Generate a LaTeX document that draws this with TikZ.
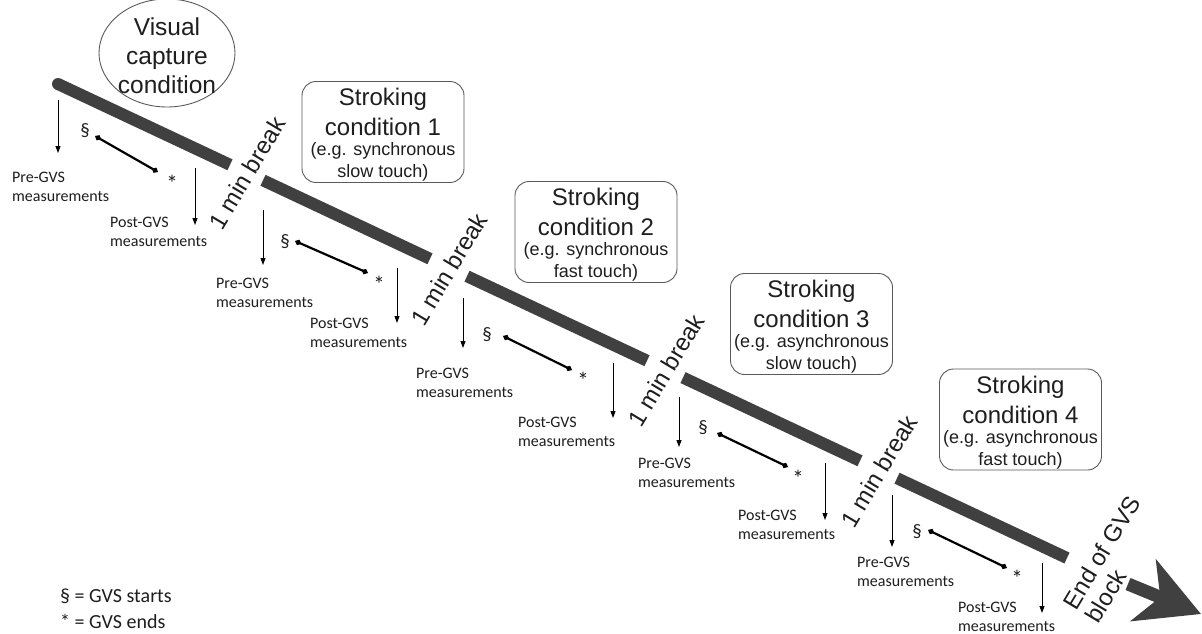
\documentclass[tikz,border=0pt]{standalone}
\usepackage{fontspec}
\setmainfont{Liberation Sans}
\newfontfamily\calfont{Carlito}
\usetikzlibrary{arrows.meta,shapes.geometric}
\definecolor{barc}{RGB}{64,64,64}
\definecolor{edgec}{RGB}{90,90,90}
\definecolor{txtc}{RGB}{30,30,30}
\begin{document}
\begin{tikzpicture}[x=1pt,y=-1pt,
  bar/.style={draw=barc, line width=12pt},
  meas/.style={font=\calfont\fontsize{16}{19}\selectfont, align=left, anchor=base west, inner sep=0pt, text=txtc},
  down/.style={-{Triangle[length=7pt,width=5pt]}, line width=0.9pt},
  gvs/.style={{Diamond[length=7pt,width=6pt]}-{Diamond[length=7pt,width=6pt]}, line width=2.2pt},
  sym/.style={font=\calfont\fontsize{19}{19}\selectfont, inner sep=0pt, text=txtc},
  ast/.style={font=\calfont\fontsize{23}{23}\selectfont, inner sep=0pt, text=txtc},
  cond/.style={draw=edgec, line width=0.9pt, rounded corners=14pt, minimum width=162pt, minimum height=101pt, inner sep=0pt},
  ttl/.style={font=\fontsize{24}{30}\selectfont, align=center, inner sep=0pt, text=txtc},
  sbt/.style={font=\fontsize{18}{22}\selectfont, align=center, inner sep=0pt, text=txtc},
  brk/.style={font=\fontsize{24}{26}\selectfont, rotate=59, inner sep=0pt, text=txtc}
]
\useasboundingbox[fill=white] (0,0) rectangle (1202,634);

% ---- main bar ----
\coordinate (b1s) at (58,84);   \coordinate (b1e) at (230,164.8);
\coordinate (b2s) at (263,180.3); \coordinate (b2e) at (430,258.8);
\coordinate (b3s) at (467,276.2); \coordinate (b3e) at (647,360.7);
\coordinate (b4s) at (683,377.6); \coordinate (b4e) at (860,460.8);
\coordinate (b5s) at (897,478.2); \coordinate (b5e) at (1067,558);
\coordinate (as) at (1128,584);  \coordinate (at) at (1201,614);
\fill[barc] (b1s) circle (6pt);
\draw[bar] (b1s) -- (b1e);
\draw[bar] (b2s) -- (b2e);
\draw[bar] (b3s) -- (b3e);
\draw[bar] (b4s) -- (b4e);
\draw[bar] (b5s) -- (b5e);
\draw[bar, line width=13pt, -{Stealth[length=62pt,width=66pt,inset=18pt]}] (as) -- (at);

% ---- condition labels ----
\node[ellipse, draw=edgec, line width=0.9pt, minimum width=136pt, minimum height=108pt] (vc) at (167,53) {};
\node[font=\fontsize{24.5}{29}\selectfont, align=center, inner sep=0pt, text=txtc] (vct) at (167,56) {Visual\\capture\\condition};

\node[cond] (c1) at (383,132) {};
\node[ttl] (c1t) at (383,112) {Stroking\\condition 1};
\node[sbt] (c1s) at (383,162) {(e.g. synchronous\\slow touch)};

\node[cond] (c2) at (596,232) {};
\node[ttl] (c2t) at (596,212) {Stroking\\condition 2};
\node[sbt] (c2s) at (596,262) {(e.g. synchronous\\fast touch)};

\node[cond] (c3) at (811.5,324) {};
\node[ttl] (c3t) at (811.5,304) {Stroking\\condition 3};
\node[sbt] (c3s) at (811.5,354) {(e.g. asynchronous\\slow touch)};

\node[cond] (c4) at (1020.5,419.5) {};
\node[ttl] (c4t) at (1020.5,399.5) {Stroking\\condition 4};
\node[sbt] (c4s) at (1020.5,449.5) {(e.g. asynchronous\\fast touch)};

% ---- breaks ----
\node[brk] (k1) at (247,173) {1 min break};
\node[brk] (k2) at (449,269) {1 min break};
\node[brk] (k3) at (666,370) {1 min break};
\node[brk] (k4) at (879,471) {1 min break};
\node[brk, align=left] (eob) at (1113,559) {End of GVS\\block};

% ---- measurement texts (anchor = baseline of last line) ----
\node[meas] (pre1) at (12,201) {Pre-GVS\\measurements};
\node[meas] (pre2) at (216,307) {Pre-GVS\\measurements};
\node[meas] (pre3) at (416,397) {Pre-GVS\\measurements};
\node[meas] (pre4) at (638,487) {Pre-GVS\\measurements};
\node[meas] (pre5) at (857,586) {Pre-GVS\\measurements};
\node[meas] (post1) at (110,246) {Post-GVS\\measurements};
\node[meas] (post2) at (310,347) {Post-GVS\\measurements};
\node[meas] (post3) at (518,446) {Post-GVS\\measurements};
\node[meas] (post4) at (738,539) {Post-GVS\\measurements};
\node[meas] (post5) at (958,631) {Post-GVS\\measurements};

% ---- down arrows ----
\coordinate (pa1) at (58,100);  \coordinate (pb1) at (58,153);
\coordinate (pa2) at (263,210); \coordinate (pb2) at (263,265);
\coordinate (pa3) at (463,298); \coordinate (pb3) at (463,348);
\coordinate (pa4) at (679,397); \coordinate (pb4) at (679,447);
\coordinate (pa5) at (892,495); \coordinate (pb5) at (892,547);
\coordinate (qa1) at (195,168); \coordinate (qb1) at (195,225);
\coordinate (qa2) at (397,268); \coordinate (qb2) at (397,323);
\coordinate (qa3) at (613,363); \coordinate (qb3) at (613,418);
\coordinate (qa4) at (825,463); \coordinate (qb4) at (825,520);
\coordinate (qa5) at (1042,563); \coordinate (qb5) at (1042,613);
\foreach \i in {1,...,5}{
  \draw[down] (pa\i) -- (pb\i);
  \draw[down] (qa\i) -- (qb\i);
}

% ---- GVS start/end ----
\node[sym] (s1) at (85,131) {§};  \node[ast] (e1) at (172,183) {*};
\node[sym] (s2) at (285,242) {§}; \node[ast] (e2) at (379,284) {*};
\node[sym] (s3) at (487,335) {§}; \node[ast] (e3) at (583,380) {*};
\node[sym] (s4) at (703,428) {§}; \node[ast] (e4) at (798,478) {*};
\node[sym] (s5) at (917,532) {§}; \node[ast] (e5) at (1017,578) {*};
\coordinate (g1a) at (95,136);  \coordinate (g1b) at (158,172);
\coordinate (g2a) at (295,241); \coordinate (g2b) at (368,273);
\coordinate (g3a) at (503,336); \coordinate (g3b) at (572,370);
\coordinate (g4a) at (717,433); \coordinate (g4b) at (788,467);
\coordinate (g5a) at (928,530); \coordinate (g5b) at (1007,568);
\foreach \i in {1,...,5}{
  \draw[gvs] (g\i a) -- (g\i b);
}

% ---- legend ----
\node[font=\calfont\fontsize{20}{26}\selectfont, align=left, anchor=base west, inner sep=0pt, text=txtc] (leg) at (60,628) {§ = GVS starts\\* = GVS ends};
\end{tikzpicture}
\end{document}
